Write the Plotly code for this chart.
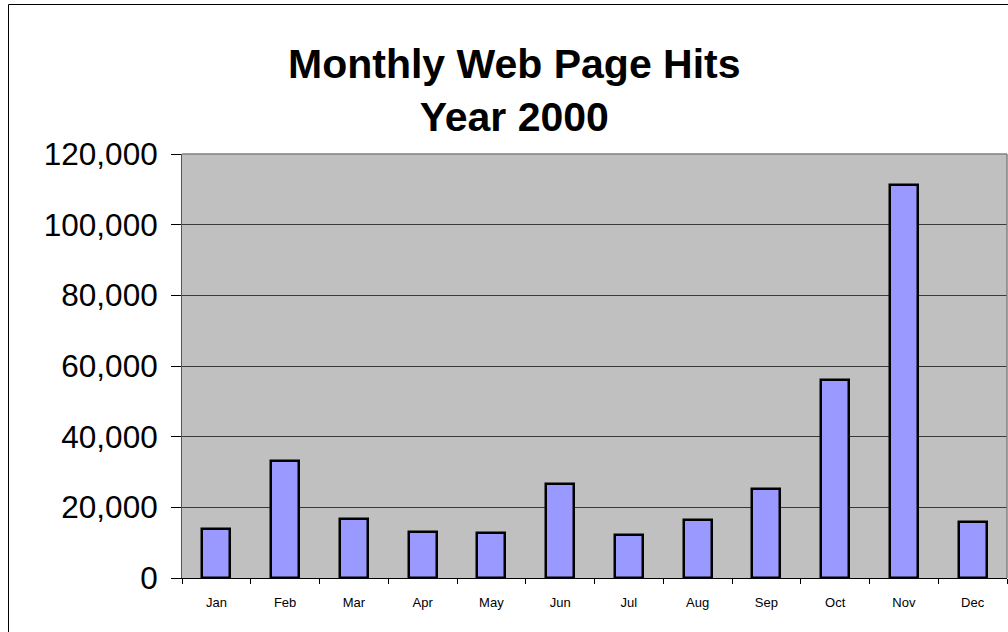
import plotly.graph_objects as go

# Monthly hit counts for the year 2000
months = ["Jan", "Feb", "Mar", "Apr", "May", "Jun",
          "Jul", "Aug", "Sep", "Oct", "Nov", "Dec"]
hits = [14000, 33100, 16600, 12900, 12600, 26600,
        12100, 16500, 25100, 56100, 111100, 15800]

y_ticks = [0, 20000, 40000, 60000, 80000, 100000, 120000]

W, H = 1008, 632
L, R, T, B = 182, 1, 154, 54
pw, ph = W - L - R, H - T - B


def px_x(x):
    return (x - L) / pw


def px_y(y):
    return (H - B - y) / ph


fig = go.Figure(
    go.Bar(
        x=months,
        y=hits,
        width=0.41,
        marker=dict(color="#9999FF", line=dict(color="#000000", width=2.5)),
    )
)

font_family = "Liberation Sans, Arial, sans-serif"

fig.update_layout(
    width=W,
    height=H,
    margin=dict(l=L, r=R, t=T, b=B),
    paper_bgcolor="#FFFFFF",
    plot_bgcolor="#C0C0C0",
    showlegend=False,
    bargap=0,
    font=dict(family=font_family, color="#000000"),
    xaxis=dict(
        type="category",
        range=[-0.5, 11.5],
        tickson="boundaries",
        ticks="outside",
        ticklen=5,
        tickcolor="#000000",
        tickfont=dict(size=13, family=font_family),
        ticklabelstandoff=12,
        showgrid=False,
        showline=True,
        linecolor="#000000",
        linewidth=1,
        zeroline=False,
    ),
    yaxis=dict(
        range=[0, 120000],
        tickvals=y_ticks,
        tickformat=",",
        ticks="outside",
        ticklen=10,
        tickcolor="#000000",
        tickfont=dict(size=31.5, family=font_family),
        ticklabelstandoff=7,
        showgrid=True,
        gridcolor="#3A3A3A",
        gridwidth=1,
        showline=True,
        linecolor="#555555",
        linewidth=1,
        zeroline=False,
    ),
    annotations=[
        dict(
            text="<b>Monthly Web Page Hits<br>Year 2000</b>",
            xref="paper", yref="paper",
            x=px_x(514), y=px_y(90),
            xanchor="center", yanchor="middle",
            showarrow=False,
            font=dict(size=41, family=font_family, color="#000000"),
        )
    ],
    shapes=[
        # plot area border on the top and right
        dict(type="line", xref="paper", yref="paper",
             x0=0, y0=1, x1=1, y1=1, line=dict(color="#808080", width=1.5)),
        dict(type="line", xref="paper", yref="paper",
             x0=1, y0=0, x1=1, y1=1, line=dict(color="#808080", width=1.5)),
        # chart area frame
        dict(type="line", xref="paper", yref="paper",
             x0=px_x(8.5), y0=px_y(4.5), x1=px_x(8.5), y1=px_y(640),
             line=dict(color="#000000", width=1)),
        dict(type="line", xref="paper", yref="paper",
             x0=px_x(8.5), y0=px_y(4.5), x1=px_x(1020), y1=px_y(4.5),
             line=dict(color="#000000", width=1)),
    ],
)

fig.write_html("out.html")
